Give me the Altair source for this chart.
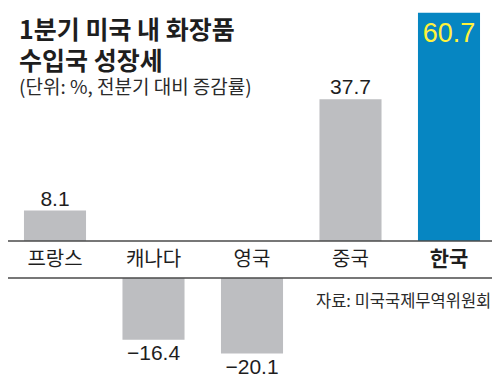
import altair as alt
import pandas as pd

countries = ["프랑스", "캐나다", "영국", "중국", "한국"]
growth = [8.1, -16.4, -20.1, 37.7, 60.7]
value_labels = ["8.1", "\u221216.4", "\u221220.1", "37.7", "60.7"]
highlight = [0, 0, 0, 0, 1]

title_lines = ["1분기 미국 내 화장품", "수입국 성장세"]
subtitle = "(단위: %, 전분기 대비 증감률)"
source_note = "자료: 미국국제무역위원회"

GAP = 9.84  # break between positive and negative bars (label band), in data units
W, H = 484, 371

GRAY = "#bdbec1"
BLUE = "#0686c2"
YELLOW = "#fff23c"
INK = "#1e1e1e"
KR = "Noto Sans CJK KR"
NUM = "Liberation Sans"

df = pd.DataFrame({
    "country": countries,
    "value": growth,
    "label": value_labels,
    "hl": highlight,
})

base = alt.Chart(df).transform_calculate(
    start=f"datum.value >= 0 ? 0 : {-GAP}",
    end=f"datum.value >= 0 ? datum.value : datum.value - {GAP}",
    mid=f"{-GAP / 2}",
)

xs = alt.X("country:N", sort=countries, axis=None,
           scale=alt.Scale(range=[-2.25, 490.25], paddingInner=0.37, paddingOuter=0.185))
ys = alt.Scale(domain=[-36.7, 61.97], nice=False, zero=False)

bars = base.mark_bar().encode(
    x=xs,
    y=alt.Y("end:Q", scale=ys, axis=None),
    y2="start:Q",
    color=alt.condition("datum.hl == 1", alt.value(BLUE), alt.value(GRAY)),
)

lines_df = pd.DataFrame({"y": [0, -GAP]})
rules = alt.Chart(lines_df).mark_rule(color="#4a4a4a", strokeWidth=1.5).encode(
    y=alt.Y("y:Q", scale=ys, axis=None),
    x=alt.value(0),
    x2=alt.value(W),
)

cat_normal = base.transform_filter("datum.hl == 0").mark_text(
    font=KR, fontSize=20, color=INK, baseline="middle", align="center"
).encode(x=xs, y=alt.Y("mid:Q", scale=ys, axis=None), text="country:N")

cat_bold = base.transform_filter("datum.hl == 1").mark_text(
    font=KR, fontSize=21, fontWeight="bold", color=INK, baseline="middle", align="center"
).encode(x=xs, y=alt.Y("mid:Q", scale=ys, axis=None), text="country:N")

val_pos = base.transform_filter("datum.value >= 0 && datum.hl == 0").mark_text(
    font=NUM, fontSize=21, color=INK, baseline="alphabetic", align="center", dy=-5
).encode(x=xs, y=alt.Y("end:Q", scale=ys, axis=None), text="label:N")

val_neg = base.transform_filter("datum.value < 0").mark_text(
    font=NUM, fontSize=21, color=INK, baseline="alphabetic", align="center", dy=20
).encode(x=xs, y=alt.Y("end:Q", scale=ys, axis=None), text="label:N")

val_hl = base.transform_filter("datum.hl == 1").mark_text(
    font=NUM, fontSize=27, color=YELLOW, baseline="alphabetic", align="center", dy=29
).encode(x=xs, y=alt.Y("end:Q", scale=ys, axis=None), text="label:N")

title_mark = alt.Chart(pd.DataFrame({"i": [0]})).mark_text(
    font=KR, fontSize=25, fontWeight="bold", color=INK,
    align="left", baseline="alphabetic", lineHeight=31
).encode(text=alt.value(title_lines), x=alt.value(11), y=alt.value(31))

def note(text, x, y, size, weight="normal", color=INK):
    return alt.Chart(pd.DataFrame({"t": [text]})).mark_text(
        font=KR, fontSize=size, fontWeight=weight, color=color,
        align="left", baseline="alphabetic"
    ).encode(text="t:N", x=alt.value(x), y=alt.value(y))

st = note(subtitle, 11, 86, 19, "normal", "#2a2a2a")
src = note(source_note, 308, 299, 16.5, "normal", "#2a2a2a")

chart = alt.layer(
    bars, rules, cat_normal, cat_bold, val_pos, val_neg, val_hl, title_mark, st, src
).properties(
    width=W, height=H, padding=0,
    autosize=alt.AutoSizeParams(type="none"),
).configure_view(stroke=None)

chart.save("out.html", embed_options={"renderer": "svg", "actions": False})
